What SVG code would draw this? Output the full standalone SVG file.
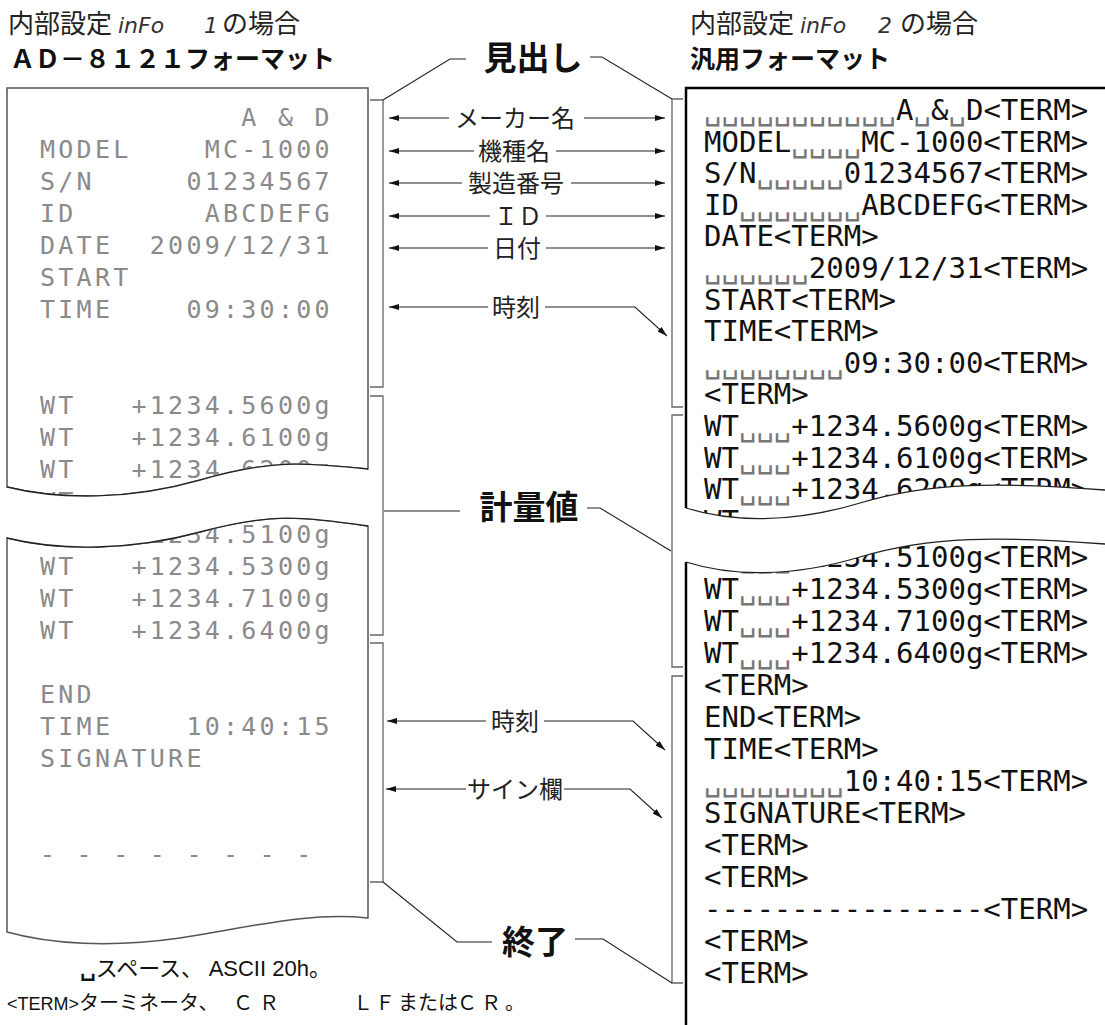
<svg xmlns="http://www.w3.org/2000/svg" width="1105" height="1025" viewBox="0 0 1105 1025">
<style>
.paper{fill:#fff;stroke:#555;stroke-width:1.5}
.rpaper{fill:none;stroke:#000;stroke-width:2.5}
.wave{fill:none;stroke:#222;stroke-width:1.3}
.gap{fill:#fff;stroke:none}
.dot{font-family:'DejaVu Sans Mono',monospace;font-size:25px;letter-spacing:3.25px;fill:#8a8a8a;white-space:pre}
.mono{font-family:'DejaVu Sans Mono',monospace;font-size:29px;fill:#111;white-space:pre}
.sp{fill:#777}
.lbl{font-family:'Liberation Serif','Noto Sans CJK JP',serif;font-size:24px;fill:#222;text-anchor:middle}
.big{font-family:'Noto Sans CJK JP',sans-serif;font-size:33px;font-weight:700;fill:#111;text-anchor:middle}
.hdr{font-family:'Liberation Serif','Noto Sans CJK JP',serif;font-size:26px;fill:#222}
.seg{font-family:'DejaVu Sans',sans-serif;font-style:italic;font-size:22px;fill:#333}
.fmt{font-family:'Noto Sans CJK JP',sans-serif;font-size:25px;font-weight:700;fill:#111}
.br{fill:none;stroke:#666;stroke-width:1.3}
.ln{fill:none;stroke:#222;stroke-width:1.1}
.note{font-family:'Liberation Serif','Noto Sans CJK JP',serif;font-size:20px;fill:#111}
.arial{font-family:'Liberation Sans',sans-serif}
</style>
<defs>
<marker id="ah" viewBox="0 0 10 6" refX="10" refY="3" markerWidth="10" markerHeight="6" markerUnits="userSpaceOnUse" orient="auto">
<path d="M0,0 L10,3 L0,6 Z" fill="#111"/>
</marker>
</defs>

<g id="headers">
<text class="hdr" x="8" y="33">内部設定</text>
<text class="seg" x="118" y="33">inFo</text>
<text class="seg" x="204" y="33">1</text>
<text class="hdr" x="222" y="33">の場合</text>
<text class="fmt" x="10" y="68">ＡＤ－８１２１フォーマット</text>
<text class="hdr" x="690" y="33">内部設定</text>
<text class="seg" x="800" y="33">inFo</text>
<text class="seg" x="878" y="33">2</text>
<text class="hdr" x="900" y="33">の場合</text>
<text class="fmt" x="690" y="68">汎用フォーマット</text>
</g>

<g id="left-paper">
<path class="paper" d="M7,487 V88 H368 V469 C300,462 270,460 200,480 C130,500 60,500 7,487 Z"/>
<path class="paper" d="M7,538 C60,551 130,551 200,532 C270,513 300,516 368,526 V918 C310,912 260,925 180,938 C110,948 50,944 7,932 Z"/>
<g class="dot" xml:space="preserve">
<text x="40" y="126" xml:space="preserve">           A &amp; D</text>
<text x="40" y="158" xml:space="preserve">MODEL    MC-1000</text>
<text x="40" y="190" xml:space="preserve">S/N     01234567</text>
<text x="40" y="222" xml:space="preserve">ID       ABCDEFG</text>
<text x="40" y="254" xml:space="preserve">DATE  2009/12/31</text>
<text x="40" y="286" xml:space="preserve">START</text>
<text x="40" y="318" xml:space="preserve">TIME    09:30:00</text>
<text x="40" y="414" xml:space="preserve">WT   +1234.5600g</text>
<text x="40" y="446" xml:space="preserve">WT   +1234.6100g</text>
<text x="40" y="478" xml:space="preserve">WT   +1234.6200g</text>
<text x="40" y="510" xml:space="preserve">WT</text>
<text x="40" y="543" xml:space="preserve">WT   +1234.5100g</text>
<text x="40" y="575" xml:space="preserve">WT   +1234.5300g</text>
<text x="40" y="607" xml:space="preserve">WT   +1234.7100g</text>
<text x="40" y="639" xml:space="preserve">WT   +1234.6400g</text>
<text x="40" y="703" xml:space="preserve">END</text>
<text x="40" y="735" xml:space="preserve">TIME    10:40:15</text>
<text x="40" y="767" xml:space="preserve">SIGNATURE</text>
<text x="40" y="863" xml:space="preserve">- - - - - - - -</text>
</g>
<path class="gap" d="M8,487 C60,500 130,500 200,480 C270,460 300,462 367,469 V526 C300,516 270,513 200,532 C130,551 60,551 8,538 Z"/>
<path class="wave" d="M7,487 C60,500 130,500 200,480 C270,460 300,462 368,469"/>
<path class="wave" d="M7,538 C60,551 130,551 200,532 C270,513 300,516 368,526"/>
</g>

<g id="right-paper">
<g class="mono">
<text x="704" y="120"><tspan class="sp">␣␣␣␣␣␣␣␣␣␣␣</tspan>A<tspan class="sp">␣</tspan>&amp;<tspan class="sp">␣</tspan>D&lt;TERM&gt;</text>
<text x="704" y="151.6">MODEL<tspan class="sp">␣␣␣␣</tspan>MC-1000&lt;TERM&gt;</text>
<text x="704" y="183.2">S/N<tspan class="sp">␣␣␣␣␣</tspan>01234567&lt;TERM&gt;</text>
<text x="704" y="214.8">ID<tspan class="sp">␣␣␣␣␣␣␣</tspan>ABCDEFG&lt;TERM&gt;</text>
<text x="704" y="246.4">DATE&lt;TERM&gt;</text>
<text x="704" y="278"><tspan class="sp">␣␣␣␣␣␣</tspan>2009/12/31&lt;TERM&gt;</text>
<text x="704" y="309.6">START&lt;TERM&gt;</text>
<text x="704" y="341.2">TIME&lt;TERM&gt;</text>
<text x="704" y="372.8"><tspan class="sp">␣␣␣␣␣␣␣␣</tspan>09:30:00&lt;TERM&gt;</text>
<text x="704" y="404.4">&lt;TERM&gt;</text>
<text x="704" y="436">WT<tspan class="sp">␣␣␣</tspan>+1234.5600g&lt;TERM&gt;</text>
<text x="704" y="467.6">WT<tspan class="sp">␣␣␣</tspan>+1234.6100g&lt;TERM&gt;</text>
<text x="704" y="499.2">WT<tspan class="sp">␣␣␣</tspan>+1234.6200g&lt;TERM&gt;</text>
<text x="704" y="531">WT</text>
<text x="704" y="567">WT<tspan class="sp">␣␣␣</tspan>+1234.5100g&lt;TERM&gt;</text>
<text x="704" y="599">WT<tspan class="sp">␣␣␣</tspan>+1234.5300g&lt;TERM&gt;</text>
<text x="704" y="631">WT<tspan class="sp">␣␣␣</tspan>+1234.7100g&lt;TERM&gt;</text>
<text x="704" y="663">WT<tspan class="sp">␣␣␣</tspan>+1234.6400g&lt;TERM&gt;</text>
<text x="704" y="695">&lt;TERM&gt;</text>
<text x="704" y="727">END&lt;TERM&gt;</text>
<text x="704" y="759">TIME&lt;TERM&gt;</text>
<text x="704" y="791"><tspan class="sp">␣␣␣␣␣␣␣␣</tspan>10:40:15&lt;TERM&gt;</text>
<text x="704" y="823">SIGNATURE&lt;TERM&gt;</text>
<text x="704" y="855">&lt;TERM&gt;</text>
<text x="704" y="887">&lt;TERM&gt;</text>
<text x="704" y="919">----------------&lt;TERM&gt;</text>
<text x="704" y="951">&lt;TERM&gt;</text>
<text x="704" y="983">&lt;TERM&gt;</text>
</g>
<path class="gap" d="M687,508 C730,522 790,524 860,503 C930,482 1000,482 1105,490 V544 C1000,536 930,536 860,557 C790,578 730,576 687,562 Z"/>
<path class="rpaper" d="M686,508 V88 H1105"/>
<path class="rpaper" d="M686,562 V1025"/>
<path class="wave" d="M686,508 C730,522 790,524 860,503 C930,482 1000,482 1105,490"/>
<path class="wave" d="M686,562 C730,576 790,578 860,557 C930,536 1000,536 1105,544"/>
</g>

<g id="brackets">
<path class="br" d="M370,100 H383 V387 H370"/>
<path class="br" d="M370,396 H383 V635 H370"/>
<path class="br" d="M370,643 H383 V882 H370"/>
<path class="br" d="M683,99 H672 V407 H683"/>
<path class="br" d="M683,415 H672 V667 H683"/>
<path class="br" d="M683,676 H672 V983 H683"/>
</g>

<g id="label-maker"><text class="lbl" x="515" y="127">メーカー名</text></g>
<g id="label-model"><text class="lbl" x="514" y="160">機種名</text></g>
<g id="label-serial"><text class="lbl" x="516" y="192">製造番号</text></g>
<g id="label-id"><text class="lbl" x="518" y="225">ＩＤ</text></g>
<g id="label-date"><text class="lbl" x="517" y="257">日付</text></g>
<g id="label-time1"><text class="lbl" x="516" y="316">時刻</text></g>
<g id="label-time2"><text class="lbl" x="515" y="730">時刻</text></g>
<g id="label-sign"><text class="lbl" x="515" y="798">サイン欄</text></g>
<g id="label-heading"><text class="big" x="533" y="70">見出し</text></g>
<g id="label-weight"><text class="big" x="529" y="519">計量値</text></g>
<g id="label-end"><text class="big" x="535" y="954">終了</text></g>

<g id="connectors">
<path class="ln" d="M449,118 H389" marker-end="url(#ah)"/>
<path class="ln" d="M584,118 H665" marker-end="url(#ah)"/>
<path class="ln" d="M474,151 H389" marker-end="url(#ah)"/>
<path class="ln" d="M556,151 H665" marker-end="url(#ah)"/>
<path class="ln" d="M462,183 H389" marker-end="url(#ah)"/>
<path class="ln" d="M571,183 H665" marker-end="url(#ah)"/>
<path class="ln" d="M490,216 H389" marker-end="url(#ah)"/>
<path class="ln" d="M546,216 H665" marker-end="url(#ah)"/>
<path class="ln" d="M488,248 H389" marker-end="url(#ah)"/>
<path class="ln" d="M546,248 H665" marker-end="url(#ah)"/>
<path class="ln" d="M488,307 H389" marker-end="url(#ah)"/>
<path class="ln" d="M545,307 H635 L667,336" marker-end="url(#ah)"/>
<path class="ln" d="M486,721 H387" marker-end="url(#ah)"/>
<path class="ln" d="M544,721 H633 L665,750" marker-end="url(#ah)"/>
<path class="ln" d="M466,789 H386" marker-end="url(#ah)"/>
<path class="ln" d="M564,789 H630 L662,818" marker-end="url(#ah)"/>
<path class="ln" d="M383,100 L450,59 H466"/>
<path class="ln" d="M590,57 H602 L672,99"/>
<path class="ln" d="M384,511 H460"/>
<path class="ln" d="M587,508 H600 L671,551"/>
<path class="ln" d="M383,882 L457,942 H492"/>
<path class="ln" d="M575,939 H603 L672,983"/>
</g>

<g id="notes">
<text class="note" x="80" y="976" style="font-size:22px"><tspan font-family="'DejaVu Sans',sans-serif" font-weight="bold">␣</tspan><tspan>スペース、 </tspan><tspan class="arial">ASCII 20h</tspan><tspan>。</tspan></text>
<text class="note" x="7" y="1010"><tspan class="arial" style="font-size:18px">&lt;TERM&gt;</tspan><tspan>ターミネータ、</tspan><tspan x="233" letter-spacing="6">ＣＲ</tspan><tspan x="353" letter-spacing="2">ＬＦ</tspan><tspan x="398">または</tspan><tspan x="457" letter-spacing="4">ＣＲ。</tspan></text>
</g>
</svg>
